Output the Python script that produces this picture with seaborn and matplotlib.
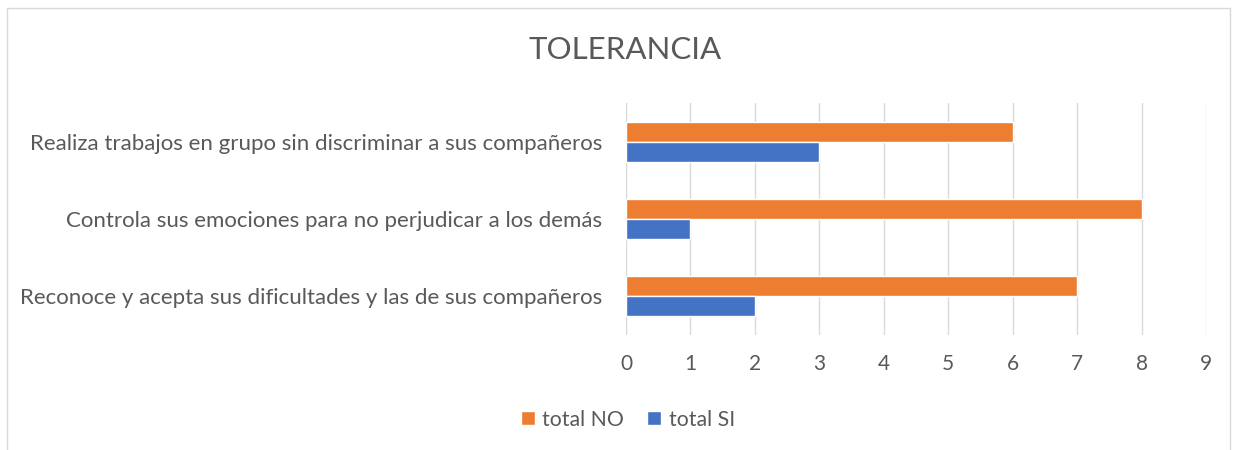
import pandas as pd
import seaborn as sns
import matplotlib.pyplot as plt
from matplotlib.patches import Rectangle

categorias = [
    "Realiza trabajos en grupo sin discriminar a sus compañeros",
    "Controla sus emociones para no perjudicar a los demás",
    "Reconoce y acepta sus dificultades y las de sus compañeros",
]
total_no = [6, 8, 7]
total_si = [3, 1, 2]
series = ["total NO", "total SI"]
colores = ["#ED7D31", "#4472C4"]

df = pd.DataFrame({
    "categoria": categorias * 2,
    "valor": total_no + total_si,
    "serie": [series[0]] * 3 + [series[1]] * 3,
})

sns.set_style("white")
plt.rcParams["font.family"] = ["Lato", "DejaVu Sans"]
texto = "#595959"

fig = plt.figure(figsize=(12.36, 4.5), dpi=100)
ax = fig.add_axes([0.5065, 0.2556, 0.4693, 0.5155])

sns.barplot(data=df, y="categoria", x="valor", hue="serie", order=categorias,
            hue_order=series, palette=colores, width=0.52, orient="h",
            saturation=1, ax=ax, legend=True)

ax.set_xlim(0, 9)
ax.set_xticks(range(10))
ax.set_xlabel("")
ax.set_ylabel("")
ax.grid(axis="x", color="#D9D9D9", linewidth=1)
ax.set_axisbelow(True)
for s in ax.spines.values():
    s.set_visible(False)
ax.tick_params(axis="x", length=0, pad=14, labelsize=15, labelcolor=texto)
ax.tick_params(axis="y", length=0, pad=17, labelsize=16, labelcolor=texto)

fig.text(0.5055, 0.888, "TOLERANCIA", ha="center", va="center", fontsize=22.5, color=texto)

handles, labels = ax.get_legend_handles_labels()
ax.get_legend().remove()
fig.legend(handles, labels, loc="center", bbox_to_anchor=(0.508, 0.067), ncol=2,
           frameon=False, fontsize=15.3, labelcolor=texto, handlelength=0.65,
           handleheight=0.65, handletextpad=0.35, columnspacing=1.1)

fig.patches.append(Rectangle((0.006, -0.01), 0.989, 0.993, transform=fig.transFigure,
                             fill=False, edgecolor="#D9D9D9", linewidth=1))

fig.savefig("out.png", dpi=100)
